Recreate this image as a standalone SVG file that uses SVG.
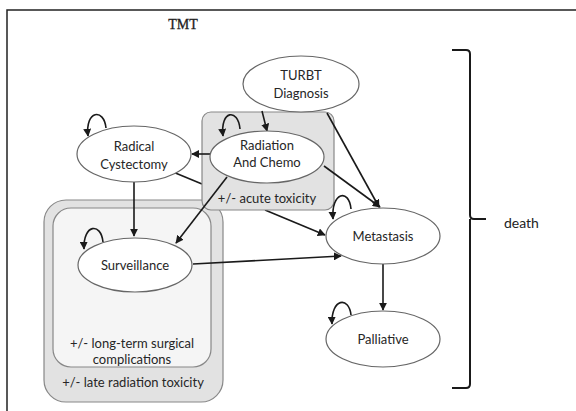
<svg xmlns="http://www.w3.org/2000/svg" width="576" height="411" viewBox="0 0 576 411">
<defs>
<marker id="ah" viewBox="0 0 10 10" refX="9" refY="5" markerWidth="8" markerHeight="8" markerUnits="userSpaceOnUse" orient="auto">
<path d="M0,0 L10,5 L0,10 z" fill="#1a1a1a"/>
</marker>
<style>
.t{font-family:Lato,"Open Sans","Liberation Sans",sans-serif;font-size:13px;fill:#262626;text-anchor:middle}
.n{fill:#fff;stroke:#666;stroke-width:1.2}
.e{fill:none;stroke:#1a1a1a;stroke-width:1.6;marker-end:url(#ah)}
.l{fill:none;stroke:#1a1a1a;stroke-width:1.6}
</style>
</defs>
<rect width="576" height="411" fill="#fff"/>
<path d="M7,411 L7,10 L576,10" fill="none" stroke="#222" stroke-width="1.5"/>
<text x="183" y="29" font-family="'Liberation Serif',serif" font-size="14" fill="#222" stroke="#222" stroke-width="0.3" text-anchor="middle">TMT</text>

<g id="late-radiation-toxicity">
<rect x="44" y="200" width="179" height="202" rx="22" fill="#e2e2e2" stroke="#888" stroke-width="1.2"/>
<text class="t" x="133" y="387">+/- late radiation toxicity</text>
</g>
<g id="long-term-surgical-complications">
<rect x="53" y="208" width="158" height="159" rx="18" fill="#f5f5f5" stroke="#888" stroke-width="1.2"/>
<text class="t" x="132" y="348" font-size="12">+/- long-term surgical</text>
<text class="t" x="132" y="364" font-size="12">complications</text>
</g>

<g id="connectors">
<path class="l" d="M173,172 L202,184"/>
<path class="e" d="M265,210 L325,235"/>
</g>

<g id="acute-toxicity">
<rect x="202" y="112" width="132" height="98" rx="9" fill="#e2e2e2" stroke="#888" stroke-width="1.2"/>
<text class="t" x="267" y="203">+/- acute toxicity</text>
</g>

<g id="connectors-main">
<path class="e" d="M262,111 L267,131"/>
<path class="e" d="M210,154 L192,154"/>
<path class="e" d="M327,113 L379,207"/>
<path class="e" d="M324,166 L380,207"/>
<path class="e" d="M134,182 L134,236"/>
<path class="e" d="M227,177 L176,243"/>
<path class="e" d="M193,264 L341,256"/>
<path class="e" d="M383,264 L383,310"/>
<path class="e" d="M106,128 C104,108 85,110 88,136"/>
<path class="e" d="M240,129 C238,108 220,110 223,136"/>
<path class="e" d="M351,209 C349,188 331,192 333,219"/>
<path class="e" d="M351,315 C349,296 331,298 332,324"/>
<path class="e" d="M103,242 C101,222 83,224 84,249"/>
</g>

<g id="turbt-diagnosis">
<ellipse class="n" cx="301" cy="84" rx="58" ry="28"/>
<text class="t" x="301" y="80">TURBT</text>
<text class="t" x="301" y="98">Diagnosis</text>
</g>
<g id="radical-cystectomy">
<ellipse class="n" cx="134" cy="154" rx="57" ry="28"/>
<text class="t" x="134" y="151">Radical</text>
<text class="t" x="134" y="169">Cystectomy</text>
</g>
<g id="radiation-and-chemo">
<ellipse class="n" cx="267" cy="157" rx="57" ry="26"/>
<text class="t" x="267" y="150">Radiation</text>
<text class="t" x="267" y="167">And Chemo</text>
</g>
<g id="surveillance">
<ellipse class="n" cx="135" cy="265" rx="57" ry="27"/>
<text class="t" x="135" y="270">Surveillance</text>
</g>
<g id="metastasis">
<ellipse class="n" cx="383" cy="236" rx="57" ry="28"/>
<text class="t" x="383" y="241">Metastasis</text>
</g>
<g id="palliative">
<ellipse class="n" cx="383" cy="339" rx="57" ry="28"/>
<text class="t" x="383" y="344">Palliative</text>
</g>

<g id="death">
<path d="M452,50 L466,50 Q470,50 470,54 L470,215 Q470,219 474,219 L486,219 M470,219 L470,384 Q470,388 466,388 L452,388" fill="none" stroke="#1a1a1a" stroke-width="2"/>
<text x="504" y="228" font-family="Lato,'Open Sans','Liberation Sans',sans-serif" font-size="14" fill="#222">death</text>
</g>
</svg>
